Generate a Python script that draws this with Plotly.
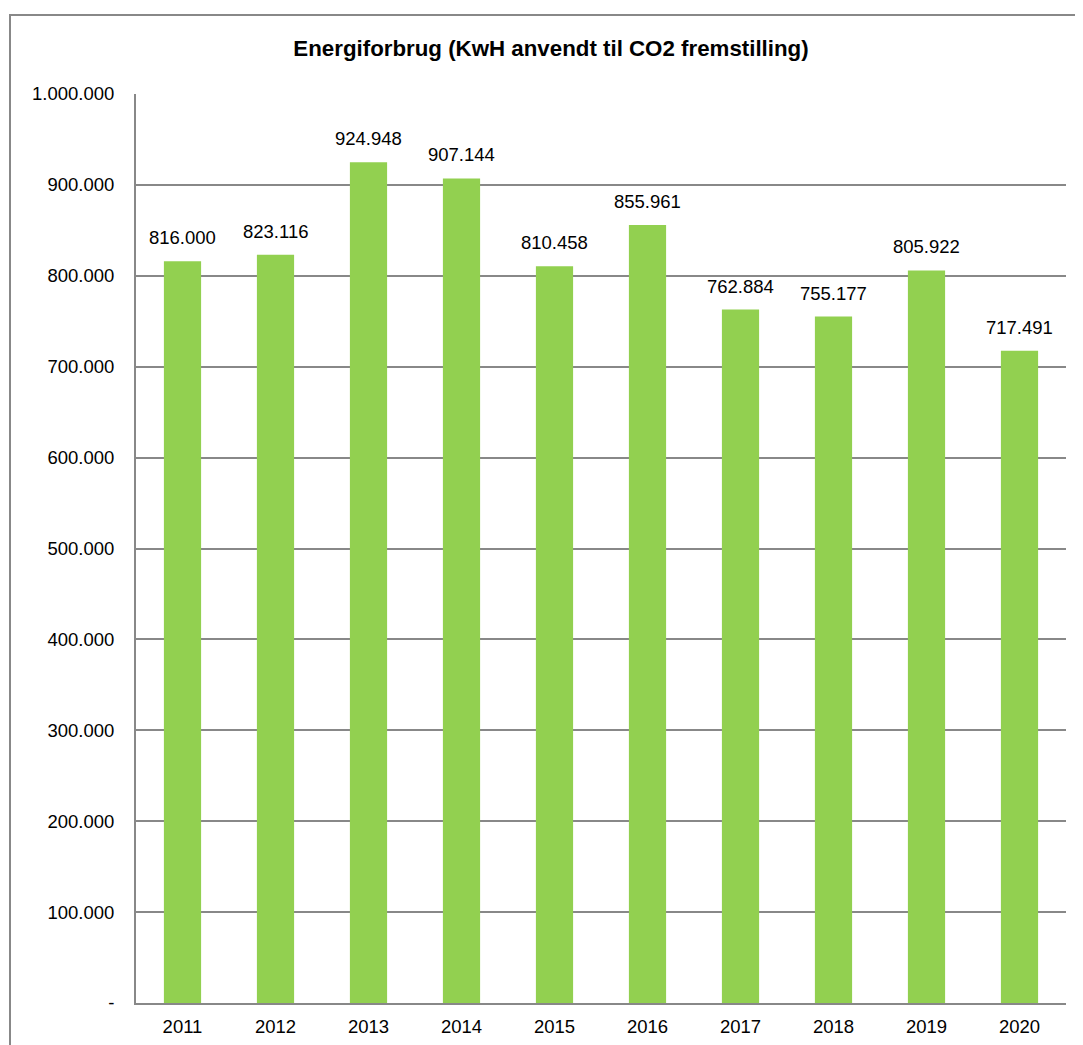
import plotly.graph_objects as go

years = ["2011", "2012", "2013", "2014", "2015", "2016", "2017", "2018", "2019", "2020"]
kwh = [816000, 823116, 924948, 907144, 810458, 855961, 762884, 755177, 805922, 717491]
tick_vals = [0, 100000, 200000, 300000, 400000, 500000, 600000, 700000, 800000, 900000, 1000000]
tick_text = ["-", "100.000", "200.000", "300.000", "400.000", "500.000", "600.000",
             "700.000", "800.000", "900.000", "1.000.000"]
title_text = "Energiforbrug (KwH anvendt til CO2 fremstilling)"

def fmt(v):
    return f"{v:,}".replace(",", ".")

FONT = "Liberation Sans, Arial, sans-serif"
FS = 18.5

fig = go.Figure()
fig.add_trace(go.Bar(x=years, y=kwh, marker=dict(color="#92D050", line=dict(width=0)),
                     hoverinfo="x+y"))

for i, v in enumerate(kwh):
    fig.add_annotation(x=i, y=v, text=fmt(v), showarrow=False, yanchor="bottom",
                       yshift=11, font=dict(family=FONT, size=FS, color="#000000"))

# page body has an 8px margin, so offset all positions
OFF = 8
W, H = 1083, 1045
L, R, T, B = 136 - OFF, 1066 - OFF, 94 - OFF, 1003 - OFF
fig.update_layout(
    width=W, height=H,
    margin=dict(l=L, r=W - R, t=T, b=H - B, pad=0, autoexpand=False),
    paper_bgcolor="white", plot_bgcolor="white",
    bargap=0.6,
    showlegend=False,
    font=dict(family=FONT, size=FS, color="#000000"),
    title=dict(text="<b>" + title_text + "</b>", x=(551 - OFF) / W, xanchor="center",
               y=1 - (48 - OFF) / H, yanchor="middle", automargin=False,
               font=dict(family=FONT, size=22.3, color="#000000")),
    xaxis=dict(type="category", range=[-0.5, len(years) - 0.5], autorange=False,
               showgrid=False, showline=True, linecolor="#888888", linewidth=2,
               ticks="", ticklabelstandoff=6, tickfont=dict(size=FS),
               fixedrange=True, automargin=False),
    yaxis=dict(range=[0, 1000000], autorange=False, tickvals=tick_vals, ticktext=tick_text,
               showgrid=True, gridcolor="#888888", gridwidth=1.5,
               showline=True, linecolor="#888888", linewidth=2,
               zeroline=False, ticks="", ticklabelstandoff=16, automargin=False,
               tickfont=dict(size=FS)),
)

pw, ph = R - L, B - T
fig.add_shape(type="rect", xref="paper", yref="paper",
              x0=(10 - OFF - L) / pw, x1=(W + 20 - L) / pw,
              y0=(B - (H + 20)) / ph, y1=(B - (15 - OFF)) / ph,
              line=dict(color="#888888", width=2), fillcolor="rgba(0,0,0,0)", layer="below")

fig.write_html("out.html")
